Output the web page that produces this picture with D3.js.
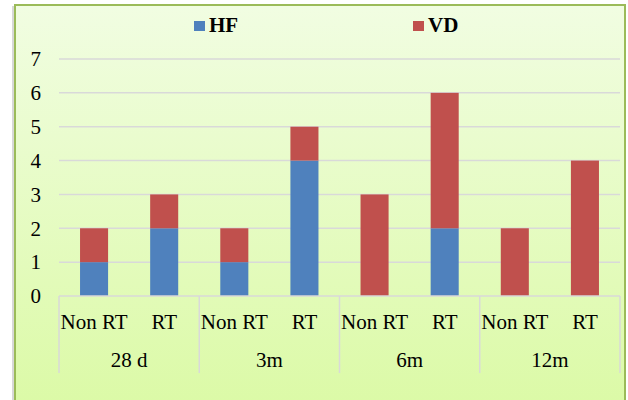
<!DOCTYPE html>
<html>
<head>
<meta charset="utf-8">
<script src="https://cdn.jsdelivr.net/npm/d3@7"></script>
</head>
<body style="margin:0">
<svg id="chart" width="628" height="400" style="font-family: 'Liberation Serif', serif"></svg>
<script>
// data
var groups = ["28 d", "3m", "6m", "12m"];
var subs = ["Non RT", "RT"];
var hf = [1, 2, 1, 4, 0, 2, 0, 0];
var vd = [1, 1, 1, 1, 3, 4, 2, 4];
var yTicks = [0, 1, 2, 3, 4, 5, 6, 7];
var seriesNames = ["HF", "VD"];
var colors = ["#4f81bd", "#c0504d"];

var FONT = "'Liberation Serif', serif";
var svg = d3.select("#chart");

var defs = svg.append("defs");
var grad = defs.append("linearGradient")
  .attr("id", "bg")
  .attr("x1", 0).attr("y1", 0).attr("x2", 0).attr("y2", 1);
grad.append("stop").attr("offset", "0%").attr("stop-color", "#f1fde2");
grad.append("stop").attr("offset", "100%").attr("stop-color", "#dbfaa5");

// frame with a soft shadow on the left
svg.append("rect")
  .attr("x", 12).attr("y", 6).attr("width", 612).attr("height", 410)
  .attr("fill", "#d8d8d8");
svg.append("rect")
  .attr("x", 15).attr("y", 5).attr("width", 610).attr("height", 410)
  .attr("fill", "url(#bg)")
  .attr("stroke", "#9bbb59")
  .attr("stroke-width", 2);

// build rows
var rows = [];
groups.forEach(function (g, gi) {
  subs.forEach(function (s, si) {
    var i = gi * subs.length + si;
    rows.push({ key: g + "|" + s, group: g, sub: s, HF: hf[i], VD: vd[i] });
  });
});

var plotL = 59, plotR = 620, plotT = 59, plotB = 296;

var x = d3.scaleBand()
  .domain(rows.map(function (d) { return d.key; }))
  .range([plotL, plotR])
  .paddingInner(0.6)
  .paddingOuter(0.3);

var xg = d3.scaleBand()
  .domain(groups)
  .range([plotL, plotR]);

var y = d3.scaleLinear()
  .domain([0, 7])
  .range([plotB, plotT]);

// gridlines
svg.append("g")
  .selectAll("line")
  .data(yTicks.slice(1))
  .join("line")
  .attr("x1", plotL).attr("x2", plotR)
  .attr("y1", function (d) { return y(d); })
  .attr("y2", function (d) { return y(d); })
  .attr("stroke", "#d9d9d9")
  .attr("stroke-width", 1.5);

// y labels
svg.append("g")
  .selectAll("text")
  .data(yTicks)
  .join("text")
  .attr("x", 41)
  .attr("y", function (d) { return y(d); })
  .attr("dy", "0.35em")
  .attr("text-anchor", "end")
  .style("font-family", FONT)
  .style("font-size", "21px")
  .text(function (d) { return d; });

// stacked bars
var stack = d3.stack().keys(seriesNames)(rows);
svg.append("g")
  .selectAll("g")
  .data(stack)
  .join("g")
  .attr("fill", function (d, i) { return colors[i]; })
  .selectAll("rect")
  .data(function (d) { return d; })
  .join("rect")
  .attr("x", function (d) { return x(d.data.key); })
  .attr("width", x.bandwidth())
  .attr("y", function (d) { return y(d[1]); })
  .attr("height", function (d) { return y(d[0]) - y(d[1]); });

// x axis line and group separators
svg.append("line")
  .attr("x1", plotL).attr("x2", plotR)
  .attr("y1", plotB).attr("y2", plotB)
  .attr("stroke", "#d9d9d9").attr("stroke-width", 1.5);

var seps = groups.map(function (g) { return xg(g); }).concat([plotR]);
svg.append("g")
  .selectAll("line")
  .data(seps)
  .join("line")
  .attr("x1", function (d) { return d; })
  .attr("x2", function (d) { return d; })
  .attr("y1", plotB).attr("y2", 373)
  .attr("stroke", "#d9d9d9").attr("stroke-width", 1.5);

// sub-category labels
svg.append("g")
  .selectAll("text")
  .data(rows)
  .join("text")
  .attr("x", function (d) { return x(d.key) + x.bandwidth() / 2; })
  .attr("y", 329)
  .attr("text-anchor", "middle")
  .style("font-family", FONT)
  .style("font-size", "21px")
  .text(function (d) { return d.sub; });

// group labels
svg.append("g")
  .selectAll("text")
  .data(groups)
  .join("text")
  .attr("x", function (d) { return xg(d) + xg.bandwidth() / 2; })
  .attr("y", 367)
  .attr("text-anchor", "middle")
  .style("font-family", FONT)
  .style("font-size", "21px")
  .text(function (d) { return d; });

// legend
var legX = [194, 413];
var leg = svg.append("g")
  .selectAll("g")
  .data(seriesNames)
  .join("g")
  .attr("transform", function (d, i) { return "translate(" + legX[i] + ",21)"; });
leg.append("rect")
  .attr("width", 11).attr("height", 10)
  .attr("fill", function (d, i) { return colors[i]; });
leg.append("text")
  .attr("x", 15)
  .attr("y", 11)
  .style("font-family", FONT)
  .style("font-size", "21px")
  .style("font-weight", "bold")
  .text(function (d) { return d; });
</script>
</body>
</html>
